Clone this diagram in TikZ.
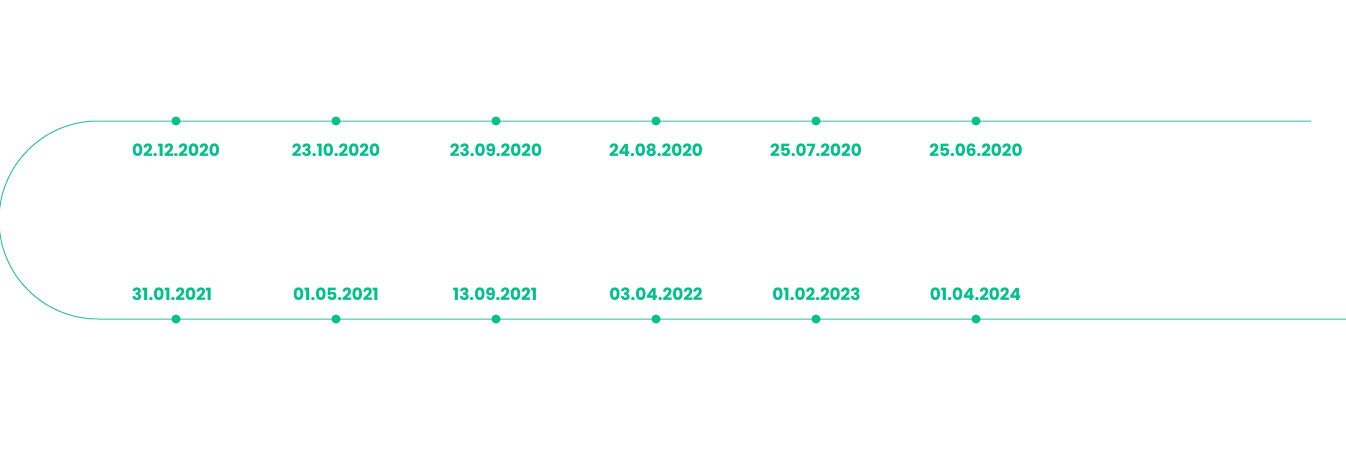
\documentclass[tikz,border=0pt]{standalone}
\usepackage{fontspec}
\setmainfont{Poppins}[BoldFont={* Bold}]
\definecolor{tlgreen}{HTML}{00C08C}
\definecolor{tlline}{HTML}{2CC39C}
\begin{document}
\begin{tikzpicture}[x=1pt,y=-1pt,
  dotnode/.style={circle,fill=tlgreen,inner sep=0pt,minimum size=9pt},
  datelabel/.style={text=tlgreen,font=\fontsize{16.9}{19}\selectfont\bfseries,inner sep=0pt,anchor=center},
  track/.style={draw=tlline,line width=1pt}]
\useasboundingbox (0,0) rectangle (1346,460);
\coordinate (topend) at (1311,121);
\coordinate (botend) at (1346,319);
\coordinate (arctop) at (98,121);
\draw[track] (topend) -- (arctop) arc[start angle=270,end angle=90,radius=99] -- (botend);
\foreach \x/\t/\b/\dx [count=\i] in {176/02.12.2020/31.01.2021/-4, 336/23.10.2020/01.05.2021/0, 496/23.09.2020/13.09.2021/-1, 656/24.08.2020/03.04.2022/0, 816/25.07.2020/01.02.2023/0.5, 976/25.06.2020/01.04.2024/-0.5}{
  \node[dotnode] (t\i) at (\x,121) {};
  \node[datelabel] (tl\i) at (\x,150) {\t};
  \node[dotnode] (b\i) at (\x,319) {};
  \node[datelabel] (bl\i) at (\x+\dx,294.5) {\b};
}
\end{tikzpicture}
\end{document}
